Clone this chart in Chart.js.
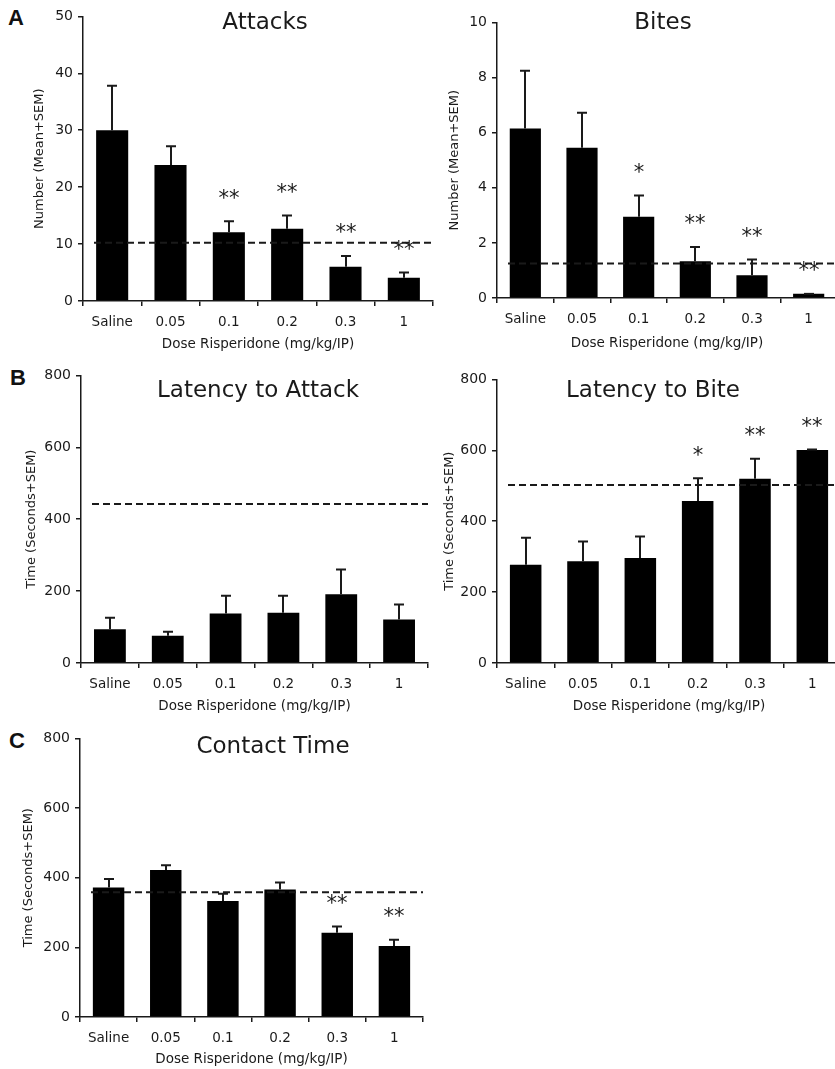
<!DOCTYPE html>
<html>
<head>
<meta charset="utf-8">
<script src="https://cdn.jsdelivr.net/npm/chart.js@4.4.1/dist/chart.umd.min.js"></script>
<style>
  html, body { margin: 0; padding: 0; background: #fff; overflow: hidden; }
  body { position: relative; width: 835px; height: 1069px; }
  canvas { position: absolute; }
  .tag { position: absolute; font: bold 22px "Liberation Sans", Arial, sans-serif; line-height: 22px; color: #111; }
</style>
</head>
<body>
<div class="tag" style="left:8px;top:7px">A</div>
<div class="tag" style="left:10px;top:367px">B</div>
<div class="tag" style="left:9px;top:730px">C</div>
<canvas id="attacks"></canvas>
<canvas id="bites"></canvas>
<canvas id="latAttack"></canvas>
<canvas id="latBite"></canvas>
<canvas id="contact"></canvas>
<script>
// dose groups
const doses = ["Saline", "0.05", "0.1", "0.2", "0.3", "1"];

// A - attacks / bites (mean, SEM, significance, dashed reference)
const attacksMean = [30, 23.9, 12.1, 12.7, 6.0, 4.1];
const attacksSem = [7.8, 3.3, 1.9, 2.3, 1.9, 0.9];
const attacksSig = ["", "", "**", "**", "**", "**"];
const attacksRef = 10.25;

const bitesMean = [6.15, 5.45, 2.95, 1.33, 0.83, 0.15];
const bitesSem = [2.1, 1.27, 0.77, 0.52, 0.57, 0];
const bitesSig = ["", "", "*", "**", "**", "**"];
const bitesRef = 1.25;

// B - latencies
const latAttackMean = [94, 76, 138, 140, 191, 121];
const latAttackSem = [32, 11, 49, 47, 69, 42];
const latAttackSig = ["", "", "", "", "", ""];
const latAttackRef = 442;

const latBiteMean = [277, 287, 296, 457, 520, 601];
const latBiteSem = [76, 56, 61, 64, 56, 1];
const latBiteSig = ["", "", "", "*", "**", "**"];
const latBiteRef = 502;

// C - contact time
const contactMean = [372, 422, 333, 366, 242, 204];
const contactSem = [24, 14, 21, 20, 18, 18];
const contactSig = ["", "", "", "", "**", "**"];
const contactRef = 358;

const FONT = "'DejaVu Sans', Verdana, sans-serif";
const INK = "#1a1a1a";

// error bars, dashed control line, asterisks and the in-plot title
const extras = {
  id: "extras",
  afterDatasetsDraw(chart, args, o) {
    const ctx = chart.ctx;
    const xs = chart.scales.x, ys = chart.scales.y;
    const area = chart.chartArea;
    ctx.save();
    // dashed line
    const yr = ys.getPixelForValue(o.ref);
    ctx.strokeStyle = INK;
    ctx.lineWidth = 2;
    ctx.setLineDash([7, 4]);
    ctx.beginPath();
    ctx.moveTo(area.left + 11, yr);
    ctx.lineTo(area.right, yr);
    ctx.stroke();
    ctx.setLineDash([]);
    // error bars (upper only)
    ctx.lineWidth = 2;
    o.mean.forEach((m, i) => {
      const cx = Math.round(xs.getPixelForValue(i));
      const y0 = ys.getPixelForValue(m);
      const y1 = ys.getPixelForValue(m + o.sem[i]);
      ctx.beginPath();
      ctx.moveTo(cx, y0);
      ctx.lineTo(cx, y1);
      ctx.moveTo(cx - 5, y1);
      ctx.lineTo(cx + 5, y1);
      ctx.stroke();
      if (o.sig[i]) {
        ctx.fillStyle = INK;
        ctx.font = "21px " + FONT;
        ctx.textAlign = "center";
        ctx.textBaseline = "middle";
        ctx.fillText(o.sig[i], cx, y1 - 22);
      }
    });
    // title
    ctx.fillStyle = INK;
    ctx.font = "23px " + FONT;
    ctx.textAlign = "center";
    ctx.textBaseline = "middle";
    ctx.fillText(o.title, o.titleX - chart.canvas.offsetLeft, o.titleY - chart.canvas.offsetTop);
    ctx.restore();
  }
};

const TITLE_FONT = 13.5;
const LH = TITLE_FONT * 1.2;

const makePanel = function (id, p, mean, sem, sig, ref, yMax, yStep, yTitle) {
  const cv = document.getElementById(id);
  const left = Math.round(p.yTitleX - LH / 2);
  const padTop = 12;
  const wy = p.axisX - left;
  const hx = Math.round(p.xTitleY + LH / 2 - p.bottomY);
  const top = p.topY - padTop;
  cv.width = wy + (p.rightX - p.axisX) + 2;
  cv.height = padTop + (p.bottomY - p.topY) + hx;
  cv.style.left = left + "px";
  cv.style.top = top + "px";

  return new Chart(cv, {
    type: "bar",
    data: {
      labels: doses,
      datasets: [{
        data: mean,
        backgroundColor: "#000",
        borderWidth: 0,
        barPercentage: 0.55,
        categoryPercentage: 1
      }]
    },
    options: {
      responsive: false,
      animation: false,
      layout: { padding: { top: padTop, right: 2, left: 0, bottom: 0 } },
      plugins: {
        legend: { display: false },
        tooltip: { enabled: false },
        extras: { mean: mean, sem: sem, sig: sig, ref: ref, title: p.title, titleX: p.titleX, titleY: p.titleY }
      },
      scales: {
        x: {
          grid: { drawOnChartArea: false, drawTicks: true, tickLength: 5, color: INK, lineWidth: 1.5, offset: true },
          border: { color: INK, width: 1.5 },
          ticks: { color: INK, font: { family: FONT, size: 13.5 }, padding: 8, maxRotation: 0 },
          title: { display: true, text: "Dose Risperidone (mg/kg/IP)", color: INK, font: { family: FONT, size: TITLE_FONT }, padding: 0 },
          afterFit(s) { s.height = hx; }
        },
        y: {
          min: 0,
          max: yMax,
          grid: { drawOnChartArea: false, drawTicks: true, tickLength: 5, color: INK, lineWidth: 1.5 },
          border: { color: INK, width: 1.5 },
          ticks: { stepSize: yStep, color: INK, font: { family: FONT, size: 14 }, padding: 5 },
          title: { display: true, text: yTitle, color: INK, font: { family: FONT, size: 13 }, padding: 0 },
          afterFit(s) { s.width = wy; }
        }
      }
    },
    plugins: [extras]
  });
};

makePanel("attacks",
  { axisX: 83, topY: 15, bottomY: 301, rightX: 433, yTitleX: 40, xTitleY: 345, title: "Attacks", titleX: 265, titleY: 23 },
  attacksMean, attacksSem, attacksSig, attacksRef, 50, 10, "Number (Mean+SEM)");
makePanel("bites",
  { axisX: 497, topY: 21, bottomY: 298, rightX: 837, yTitleX: 455, xTitleY: 344, title: "Bites", titleX: 663, titleY: 23 },
  bitesMean, bitesSem, bitesSig, bitesRef, 10, 2, "Number (Mean+SEM)");
makePanel("latAttack",
  { axisX: 81, topY: 374, bottomY: 663, rightX: 428, yTitleX: 32, xTitleY: 707, title: "Latency to Attack", titleX: 258, titleY: 391 },
  latAttackMean, latAttackSem, latAttackSig, latAttackRef, 800, 200, "Time (Seconds+SEM)");
makePanel("latBite",
  { axisX: 497, topY: 378, bottomY: 663, rightX: 841, yTitleX: 450, xTitleY: 707, title: "Latency to Bite", titleX: 653, titleY: 391 },
  latBiteMean, latBiteSem, latBiteSig, latBiteRef, 800, 200, "Time (Seconds+SEM)");
makePanel("contact",
  { axisX: 80, topY: 737, bottomY: 1017, rightX: 423, yTitleX: 29, xTitleY: 1060, title: "Contact Time", titleX: 273, titleY: 747 },
  contactMean, contactSem, contactSig, contactRef, 800, 200, "Time (Seconds+SEM)");
</script>
</body>
</html>
